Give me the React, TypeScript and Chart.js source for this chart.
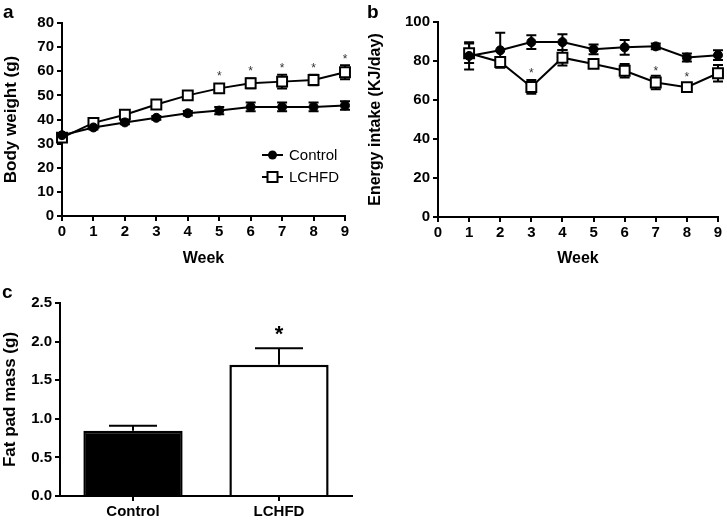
import React, { useEffect, useRef } from "react";
import { Chart, registerables } from "chart.js";

Chart.register(...registerables);
Chart.defaults.color = "#000";

// ---------- Data ----------
// Panel a: body weight
const weeksA = [0, 1, 2, 3, 4, 5, 6, 7, 8, 9];
const controlWeight = [33.5, 36.7, 38.8, 40.7, 42.6, 43.7, 45.2, 45.2, 45.2, 45.8];
const controlWeightErr = [0.8, 0.8, 0.8, 0.8, 0.9, 1.5, 1.8, 1.8, 1.8, 1.8];
const lchfdWeight = [32.5, 38.6, 42.0, 46.2, 50.0, 52.9, 55.0, 55.7, 56.4, 59.6];
const lchfdWeightErr = [0.8, 0.8, 0.8, 0.9, 1.2, 1.6, 2.0, 2.8, 2.2, 2.9];
const sigWeeksA = [5, 6, 7, 8, 9];
const sigYA = [59.0, 61.0, 62.3, 62.3, 66.0];
const yTicksA = { min: 0, max: 80, step: 10 };

// Panel b: energy intake
const weeksB = [1, 2, 3, 4, 5, 6, 7, 8, 9];
const controlIntake = [82.6, 85.5, 89.7, 89.7, 86.0, 87.0, 87.5, 81.8, 83.0];
const controlIntakeErr = [7.0, 9.0, 3.5, 4.0, 2.5, 3.8, 1.5, 2.0, 2.5];
const lchfdIntake = [84.0, 79.5, 66.7, 81.7, 78.5, 75.0, 69.0, 66.6, 73.7];
const lchfdIntakeErr = [5.0, 2.0, 3.5, 4.0, 2.0, 3.5, 3.5, 1.5, 4.2];
const sigWeeksB = [3, 7, 8];
const sigYB = [75.0, 76.0, 73.0];
const yTicksB = { min: 0, max: 100, step: 20 };

// Panel c: fat pad mass
const groups = ["Control", "LCHFD"];
const fatPadMass = [0.845, 1.7];
const fatPadErr = [0.065, 0.215];
const sigGroupsC = [1];
const sigYC = [2.15];
const yTicksC = { min: 0, max: 2.5, step: 0.5 };

const FONT = "'Liberation Sans', Arial, Helvetica, sans-serif";

// ---------- Plugins ----------
function errorBarPlugin(capHalf: number, upOnly: boolean) {
  return {
    id: "errbars",
    beforeDatasetsDraw(chart: any) {
      const { ctx } = chart;
      const y = chart.scales.y;
      chart.data.datasets.forEach((ds: any, i: number) => {
        const errs: number[] = ds.errors;
        if (!errs) return;
        const meta = chart.getDatasetMeta(i);
        ctx.save();
        ctx.strokeStyle = "#000";
        ctx.lineWidth = 2;
        meta.data.forEach((el: any, j: number) => {
          const raw = ds.data[j];
          const v = typeof raw === "number" ? raw : raw.y;
          const px = el.x;
          const top = y.getPixelForValue(v + errs[j]);
          const bot = upOnly ? y.getPixelForValue(v) : y.getPixelForValue(v - errs[j]);
          ctx.beginPath();
          ctx.moveTo(px, top);
          ctx.lineTo(px, bot);
          ctx.moveTo(px - capHalf, top);
          ctx.lineTo(px + capHalf, top);
          if (!upOnly) {
            ctx.moveTo(px - capHalf, bot);
            ctx.lineTo(px + capHalf, bot);
          }
          ctx.stroke();
        });
        ctx.restore();
      });
    },
  };
}

function starPlugin(xs: number[], ys: number[], font: string, color: string, shift: number) {
  return {
    id: "stars",
    afterDatasetsDraw(chart: any) {
      const { ctx } = chart;
      const xS = chart.scales.x;
      const yS = chart.scales.y;
      ctx.save();
      ctx.font = font;
      ctx.fillStyle = color;
      ctx.textAlign = "center";
      ctx.textBaseline = "middle";
      xs.forEach((xv, i) => {
        ctx.fillText("*", xS.getPixelForValue(xv), yS.getPixelForValue(ys[i]) + shift);
      });
      ctx.restore();
    },
  };
}

function panelLabelPlugin(text: string, x: number, y: number) {
  return {
    id: "panelLabel",
    afterDraw(chart: any) {
      const { ctx } = chart;
      ctx.save();
      ctx.font = `bold 19px ${FONT}`;
      ctx.fillStyle = "#000";
      ctx.textAlign = "left";
      ctx.textBaseline = "alphabetic";
      ctx.fillText(text, x, y);
      ctx.restore();
    },
  };
}

const legendPlugin = {
  id: "customLegend",
  afterDraw(chart: any) {
    const { ctx } = chart;
    const rows = [
      { label: "Control", y: 155, style: "circle" },
      { label: "LCHFD", y: 177, style: "rect" },
    ];
    ctx.save();
    rows.forEach((r) => {
      ctx.strokeStyle = "#000";
      ctx.lineWidth = 2;
      ctx.beginPath();
      ctx.moveTo(262, r.y);
      ctx.lineTo(283, r.y);
      ctx.stroke();
      if (r.style === "circle") {
        ctx.fillStyle = "#000";
        ctx.beginPath();
        ctx.arc(272.5, r.y, 4.5, 0, Math.PI * 2);
        ctx.fill();
      } else {
        ctx.fillStyle = "#fff";
        ctx.fillRect(267.5, r.y - 5, 10, 10);
        ctx.strokeRect(267.5, r.y - 5, 10, 10);
      }
      ctx.fillStyle = "#000";
      ctx.font = `15px ${FONT}`;
      ctx.textAlign = "left";
      ctx.textBaseline = "middle";
      ctx.fillText(r.label, 289, r.y + 1);
    });
    ctx.restore();
  },
};

// ---------- Shared axis helpers ----------
function axisBase() {
  return {
    grid: {
      display: true,
      drawOnChartArea: false,
      drawTicks: true,
      tickLength: 5,
      color: "#000",
      lineWidth: 2,
    },
    border: { display: true, color: "#000", width: 2 },
  };
}

function lineDatasets(xs: number[], c: number[], cErr: number[], l: number[], lErr: number[]) {
  return [
    {
      label: "Control",
      data: xs.map((x, i) => ({ x, y: c[i] })),
      errors: cErr,
      borderColor: "#000",
      borderWidth: 2,
      backgroundColor: "#000",
      pointStyle: "circle",
      pointRadius: 4.5,
      pointBackgroundColor: "#000",
      pointBorderColor: "#000",
      pointBorderWidth: 1,
      clip: false,
    },
    {
      label: "LCHFD",
      data: xs.map((x, i) => ({ x, y: l[i] })),
      errors: lErr,
      borderColor: "#000",
      borderWidth: 2,
      backgroundColor: "#fff",
      pointStyle: "rect",
      pointRadius: 7,
      pointBackgroundColor: "#fff",
      pointBorderColor: "#000",
      pointBorderWidth: 2,
      clip: false,
    },
  ];
}

function lineOptions(opts: {
  padRight: number;
  padTop: number;
  yWidth: number;
  xHeight: number;
  yTitle: string;
  yTitleSize: number;
  yTitlePad: number;
  ticks: { min: number; max: number; step: number };
}) {
  return {
    responsive: false,
    animation: false as const,
    layout: { padding: { left: 0, right: opts.padRight, top: opts.padTop, bottom: 0 } },
    plugins: { legend: { display: false }, tooltip: { enabled: false } },
    scales: {
      x: {
        type: "linear" as const,
        min: 0,
        max: 9,
        ...axisBase(),
        ticks: { stepSize: 1, padding: 2, font: { family: FONT, size: 15, weight: "bold" as const }, color: "#000" },
        title: {
          display: true,
          text: "Week",
          color: "#000",
          font: { family: FONT, size: 16, weight: "bold" as const },
          padding: { top: 0, bottom: 2 },
        },
        afterFit: (s: any) => {
          s.height = opts.xHeight;
        },
      },
      y: {
        type: "linear" as const,
        min: opts.ticks.min,
        max: opts.ticks.max,
        ...axisBase(),
        ticks: { stepSize: opts.ticks.step, padding: 3, font: { family: FONT, size: 15, weight: "bold" as const }, color: "#000" },
        title: {
          display: true,
          text: opts.yTitle,
          color: "#000",
          font: { family: FONT, size: opts.yTitleSize, weight: "bold" as const },
          padding: { top: opts.yTitlePad, bottom: 0 },
        },
        afterFit: (s: any) => {
          s.width = opts.yWidth;
        },
      },
    },
  };
}

// ---------- Panels ----------
function PanelA() {
  const ref = useRef<HTMLCanvasElement>(null);
  useEffect(() => {
    const chart = new Chart(ref.current!, {
      type: "line",
      data: { datasets: lineDatasets(weeksA, controlWeight, controlWeightErr, lchfdWeight, lchfdWeightErr) as any },
      options: lineOptions({
        padRight: 20,
        padTop: 23,
        yWidth: 62,
        xHeight: 54,
        yTitle: "Body weight (g)",
        yTitleSize: 17,
        yTitlePad: 1,
        ticks: yTicksA,
      }) as any,
      plugins: [
        errorBarPlugin(5, false),
        starPlugin(sigWeeksA, sigYA, `12px ${FONT}`, "#333", 3),
        legendPlugin,
        panelLabelPlugin("a", 3, 18),
      ],
    });
    return () => chart.destroy();
  }, []);
  return <canvas ref={ref} width={365} height={270} style={{ position: "absolute", left: 0, top: 0 }} />;
}

function PanelB() {
  const ref = useRef<HTMLCanvasElement>(null);
  useEffect(() => {
    const chart = new Chart(ref.current!, {
      type: "line",
      data: { datasets: lineDatasets(weeksB, controlIntake, controlIntakeErr, lchfdIntake, lchfdIntakeErr) as any },
      options: lineOptions({
        padRight: 9,
        padTop: 22,
        yWidth: 73,
        xHeight: 53,
        yTitle: "Energy intake (KJ/day)",
        yTitleSize: 16,
        yTitlePad: 0.5,
        ticks: yTicksB,
      }) as any,
      plugins: [
        errorBarPlugin(5, false),
        starPlugin(sigWeeksB, sigYB, `12px ${FONT}`, "#333", 3),
        panelLabelPlugin("b", 2, 18),
      ],
    });
    return () => chart.destroy();
  }, []);
  return <canvas ref={ref} width={362} height={270} style={{ position: "absolute", left: 365, top: 0 }} />;
}

function PanelC() {
  const ref = useRef<HTMLCanvasElement>(null);
  useEffect(() => {
    const chart = new Chart(ref.current!, {
      type: "bar",
      data: {
        labels: groups,
        datasets: [
          {
            data: fatPadMass,
            errors: fatPadErr,
            backgroundColor: ["#000", "#fff"],
            borderColor: "#000",
            borderWidth: 2.5,
            barPercentage: 0.68,
            categoryPercentage: 1,
          } as any,
        ],
      },
      options: {
        responsive: false,
        animation: false,
        layout: { padding: { left: 0, right: 13, top: 23, bottom: 0 } },
        plugins: { legend: { display: false }, tooltip: { enabled: false } },
        scales: {
          x: {
            type: "category",
            ...axisBase(),
            grid: { ...axisBase().grid, offset: false },
            ticks: { padding: 2, font: { family: FONT, size: 15, weight: "bold" }, color: "#000" },
            afterFit: (s: any) => {
              s.height = 27;
            },
          },
          y: {
            type: "linear",
            min: yTicksC.min,
            max: yTicksC.max,
            ...axisBase(),
            ticks: {
              stepSize: yTicksC.step,
              padding: 3,
              font: { family: FONT, size: 15, weight: "bold" },
              color: "#000",
              callback: (v: any) => Number(v).toFixed(1),
            },
            title: {
              display: true,
              text: "Fat pad mass (g)",
              color: "#000",
              font: { family: FONT, size: 17, weight: "bold" },
              padding: { top: 0, bottom: 0 },
            },
            afterFit: (s: any) => {
              s.width = 60;
            },
          },
        },
      } as any,
      plugins: [
        errorBarPlugin(24, true),
        starPlugin(sigGroupsC, sigYC, `bold 22px ${FONT}`, "#000", 5),
        panelLabelPlugin("c", 2, 18),
      ],
    });
    return () => chart.destroy();
  }, []);
  return <canvas ref={ref} width={365} height={243} style={{ position: "absolute", left: 0, top: 280 }} />;
}

export default function App() {
  return (
    <div style={{ position: "absolute", left: 0, top: 0, width: 727, height: 523, background: "#fff", overflow: "hidden" }}>
      <PanelA />
      <PanelB />
      <PanelC />
    </div>
  );
}
